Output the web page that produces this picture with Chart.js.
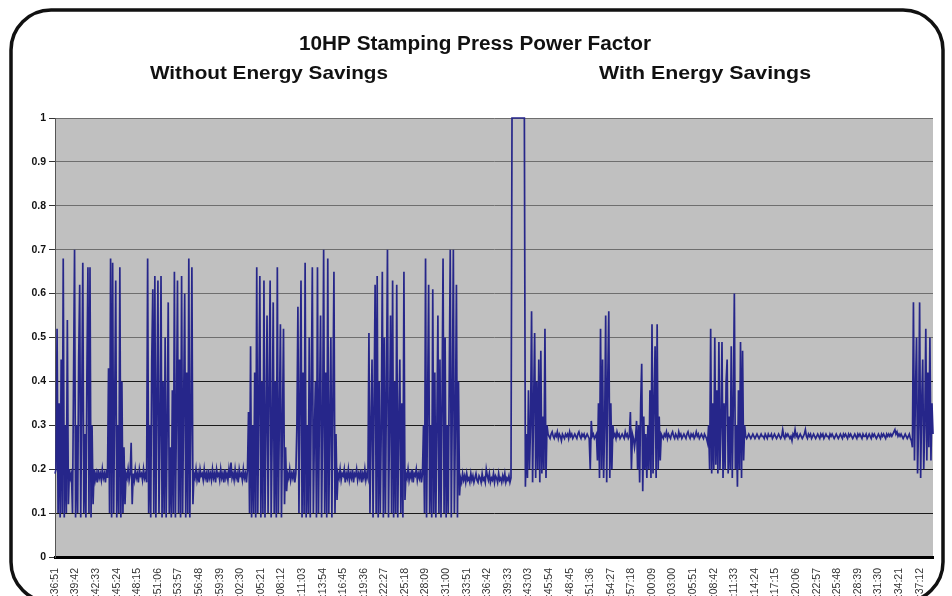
<!DOCTYPE html>
<html>
<head>
<meta charset="utf-8">
<script src="https://cdn.jsdelivr.net/npm/chart.js@4.4.1/dist/chart.umd.min.js"></script>
<style>
html,body{margin:0;padding:0;background:#fff;}
#wrap{width:952px;height:596px;}
</style>
</head>
<body>
<div id="wrap"><canvas id="c" width="952" height="596"></canvas></div>
<script>
// x tick labels (one every 20 samples)
const timeLabels = [
 "2:36:51","2:39:42","2:42:33","2:45:24","2:48:15","2:51:06","2:53:57","2:56:48","2:59:39",
 "3:02:30","3:05:21","3:08:12","3:11:03","3:13:54","3:16:45","3:19:36","3:22:27","3:25:18",
 "3:28:09","3:31:00","3:33:51","3:36:42","3:39:33","3:43:03","3:45:54","3:48:45","3:51:36",
 "3:54:27","3:57:18","4:00:09","4:03:00","4:05:51","4:08:42","4:11:33","4:14:24","4:17:15",
 "4:20:06","4:22:57","4:25:48","4:28:39","4:31:30","4:34:21","4:37:12"
];
const labelEvery = 20;

// power factor without energy savings
const pfWithout = [
 0.19,0.2,
 0.52,0.1,0.35,0.09,0.45,0.1,0.68,0.09,0.3,0.1,0.54,
 0.12,0.2,0.18,0.19,
 0.1,0.4,0.70,0.09,0.3,0.1,0.45,0.62,0.09,0.35,0.67,0.1,0.28,0.09,0.42,0.66,0.1,0.66,0.09,0.3,
 0.12,0.2,0.175,0.19,0.17,0.2,0.18,0.19,0.175,0.2,0.18,0.19,0.17,0.2,0.18,
 0.43,0.1,0.68,0.09,0.67,0.1,0.35,0.63,0.09,0.3,0.1,0.66,0.09,0.4,0.1,0.25,0.12,
 0.19,0.18,0.2,0.175,0.19,0.26,0.12,0.19,0.175,0.2,0.18,0.19,0.17,0.2,0.185,0.19,0.175,0.2,0.18,0.19,0.17,
 0.68,0.1,0.3,0.09,0.45,0.61,0.1,0.64,0.09,0.35,0.63,0.1,0.28,0.64,0.09,0.4,0.1,0.5,0.09,0.3,
 0.58,0.1,0.25,0.09,0.38,0.1,0.65,0.09,0.32,0.63,0.1,0.45,0.09,0.64,0.1,0.35,0.6,0.09,0.42,0.1,
 0.68,0.09,0.3,0.66,0.12,
 0.19,0.18,0.2,0.175,0.19,0.17,0.2,0.185,0.19,0.175,
 0.2,0.18,0.19,0.17,0.2,0.18,0.19,0.175,0.2,0.18,
 0.19,0.17,0.2,0.185,0.19,0.175,0.2,0.18,0.19,0.17,
 0.2,0.18,0.19,0.175,0.2,0.18,0.215,0.18,0.19,0.175,
 0.2,0.18,0.19,0.17,0.2,0.185,0.19,0.175,0.2,0.18,
 0.19,0.17,0.2,
 0.33,0.1,0.48,0.09,0.3,0.1,0.42,0.09,0.66,0.1,0.35,0.64,0.09,0.4,0.1,0.63,0.09,0.3,0.55,0.1,
 0.38,0.63,0.09,0.28,0.58,0.1,0.4,0.09,0.66,0.1,0.32,0.53,0.09,0.3,0.52,0.12,0.25,
 0.15,0.19,0.18,0.2,0.175,0.19,0.18,0.2,0.17,0.19,
 0.3,0.57,0.1,0.35,0.63,0.09,0.42,0.1,0.67,0.09,0.3,0.1,0.5,0.09,0.38,0.66,0.1,0.28,0.4,0.09,
 0.66,0.1,0.35,0.55,0.09,0.3,0.70,0.1,0.42,0.09,0.68,0.1,0.3,0.5,0.09,0.36,0.65,0.1,0.28,0.13,
 0.19,0.18,0.2,0.175,0.19,0.185,0.2,0.17,0.19,0.18,
 0.2,0.175,0.19,0.18,0.2,0.17,0.19,0.185,0.2,0.175,
 0.19,0.18,0.2,0.17,0.19,0.18,0.2,0.175,0.19,0.18,
 0.51,0.1,0.3,0.45,0.09,0.35,0.62,0.1,0.64,0.09,0.4,0.1,0.3,0.65,0.09,0.5,0.1,0.38,0.70,0.09,
 0.3,0.55,0.1,0.63,0.09,0.4,0.1,0.62,0.09,0.3,0.45,0.1,0.35,0.09,0.65,0.13,
 0.19,0.18,0.2,0.175,0.19,0.18,0.2,0.17,0.19,0.185,0.2,0.175,0.19,0.18,0.2,0.17,0.19,
 0.3,0.1,0.68,0.09,0.35,0.62,0.1,0.3,0.09,0.61,0.1,0.42,0.09,0.3,0.55,0.1,0.45,0.09,0.35,0.68,
 0.1,0.5,0.09,0.3,0.1,0.4,0.70,0.09,0.35,0.70,0.1,0.3,0.62,0.09,0.4,0.14,
 0.18,0.17,0.19,0.175,0.185,0.17,0.19,0.175,0.18,0.17,
 0.19,0.175,0.185,0.17,0.18,0.19,0.175,0.17,0.185,0.18,
 0.17,0.19,0.175,0.18,0.17,0.2,0.185,0.175,0.19,0.17,
 0.18,0.175,0.19,0.17,0.185,0.18,0.17,0.19,0.175,0.18,
 0.17,0.185,0.175,0.19,0.17,0.18,0.175,0.185,0.17,0.18
];

// switch-over spike
const pfSpike = [1,1,1,1,1,1,1,1,1,1,1,1,1];

// power factor with energy savings
const pfWith = [
 0.16,0.28,0.18,0.38,0.2,0.3,0.56,0.17,0.35,0.51,0.18,0.4,0.2,0.45,0.17,0.47,0.19,0.32,0.2,0.52,0.18,0.3,
 0.28,0.275,0.27,0.28,0.285,0.275,0.27,0.28,0.275,0.285,
 0.27,0.28,0.275,0.265,0.28,0.275,0.27,0.28,0.275,0.28,
 0.27,0.285,0.275,0.28,0.27,0.275,0.28,0.275,0.27,0.28,
 0.285,0.275,0.27,0.28,0.275,0.28,0.27,0.275,0.28,0.275,
 0.27,0.2,0.31,0.275,0.28,0.27,0.275,0.28,
 0.22,0.35,0.18,0.52,0.2,0.45,0.18,0.3,0.55,0.17,0.4,0.56,0.18,0.35,0.2,0.3,
 0.275,0.28,0.27,0.285,0.275,0.28,0.27,0.275,0.28,0.275,0.27,0.285,0.275,0.28,0.27,0.275,
 0.33,0.2,0.28,0.27,0.25,0.27,0.31,0.2,0.3,0.17,0.35,0.44,0.15,0.32,0.2,
 0.28,0.18,0.3,0.2,0.38,0.18,0.53,0.19,0.35,0.48,0.18,0.53,0.2,0.32,0.22,
 0.28,0.275,0.27,0.28,0.275,0.285,0.27,0.28,0.275,0.27,
 0.28,0.285,0.275,0.27,0.28,0.275,0.27,0.285,0.275,0.28,
 0.27,0.275,0.28,0.275,0.27,0.28,0.285,0.275,0.27,0.28,
 0.275,0.28,0.27,0.275,0.285,0.275,0.28,0.27,0.275,0.28,
 0.275,0.27,0.28,0.275,0.27,0.26,
 0.3,0.2,0.52,0.19,0.35,0.2,0.5,0.21,0.38,0.19,0.49,0.2,0.3,0.49,0.18,0.35,0.2,0.4,
 0.45,0.19,0.32,0.2,0.48,0.18,0.35,0.6,0.2,0.3,0.16,0.38,0.2,0.49,0.18,0.47,0.22,0.3,
 0.275,0.27,0.275,0.28,0.275,0.27,0.275,0.28,0.275,0.27,
 0.275,0.28,0.275,0.27,0.275,0.28,0.275,0.275,0.27,0.28,
 0.275,0.27,0.28,0.275,0.275,0.28,0.27,0.275,0.28,0.275,
 0.27,0.275,0.28,0.275,0.27,0.275,0.29,0.275,0.27,0.28,
 0.275,0.28,0.275,0.27,0.275,0.265,0.28,0.275,0.29,0.275,
 0.28,0.27,0.275,0.28,0.275,0.27,0.275,0.28,0.29,0.275,
 0.27,0.28,0.275,0.28,0.27,0.275,0.28,0.275,0.27,0.275,
 0.28,0.275,0.27,0.28,0.275,0.28,0.27,0.275,0.28,0.275,
 0.275,0.27,0.28,0.275,0.28,0.275,0.27,0.275,0.28,0.275,
 0.27,0.275,0.28,0.275,0.27,0.28,0.275,0.28,0.275,0.27,
 0.28,0.275,0.28,0.275,0.27,0.275,0.28,0.275,0.27,0.28,
 0.275,0.28,0.275,0.27,0.28,0.275,0.275,0.28,0.27,0.275,
 0.28,0.275,0.27,0.28,0.275,0.28,0.275,0.27,0.275,0.28,
 0.275,0.27,0.28,0.275,0.28,0.275,0.27,0.28,0.275,0.28,
 0.275,0.28,0.275,0.28,0.285,0.29,0.28,0.285,0.275,0.28,
 0.275,0.28,0.275,0.27,0.275,0.28,0.275,0.27,0.275,0.28,
 0.27,0.265,
 0.25,0.58,0.22,0.38,0.5,0.19,0.3,0.58,0.18,0.35,0.45,0.2,0.3,0.52,0.22,0.42,0.25,0.5,0.22,0.35,0.28
];

const titleText = "10HP Stamping Press Power Factor";
const subLeft = "Without Energy Savings";
const subRight = "With Energy Savings";

const pf = [...pfWithout, ...pfSpike, ...pfWith];
const points = pf.map((v, i) => ({x: i, y: v}));

function fitText(ctx, text, cx, baseline, width) {
  const w = ctx.measureText(text).width;
  ctx.save();
  ctx.translate(cx, baseline);
  ctx.scale(width / w, 1);
  ctx.textAlign = 'center';
  ctx.fillText(text, 0, 0);
  ctx.restore();
}

const framePlugin = {
  id: 'frame',
  beforeDraw(chart) {
    const {ctx, chartArea: a, width, height} = chart;
    ctx.save();
    ctx.fillStyle = '#fff';
    ctx.fillRect(0, 0, width, height);
    ctx.lineWidth = 3.5;
    ctx.strokeStyle = '#111';
    ctx.beginPath();
    ctx.roundRect(11, 10, 932, 592, 40);
    ctx.stroke();
    ctx.fillStyle = '#c0c0c0';
    ctx.fillRect(a.left, a.top, a.right - a.left, a.bottom - a.top);
    ctx.restore();
  },
  afterDraw(chart) {
    const ctx = chart.ctx;
    ctx.save();
    ctx.fillStyle = '#111';
    ctx.font = 'bold 20px "Liberation Sans", Arial, sans-serif';
    fitText(ctx, titleText, 475, 50, 352);
    ctx.font = 'bold 19px "Liberation Sans", Arial, sans-serif';
    fitText(ctx, subLeft, 269, 79, 238);
    fitText(ctx, subRight, 705, 79, 212);
    ctx.restore();
  }
};

new Chart(document.getElementById('c'), {
  type: 'line',
  data: {
    datasets: [{
      data: points,
      borderColor: '#26268a',
      borderWidth: 1.7,
      pointRadius: 0,
      tension: 0,
      fill: false,
      clip: 4
    }]
  },
  options: {
    responsive: false,
    animation: false,
    parsing: false,
    layout: {padding: {top: 118, right: 19, left: 0, bottom: 0}},
    plugins: {legend: {display: false}, tooltip: {enabled: false}, title: {display: false}},
    scales: {
      x: {
        type: 'linear',
        min: 0,
        max: pf.length - 1,
        afterBuildTicks: s => { s.ticks = timeLabels.map((_, k) => ({value: k * labelEvery})); },
        afterFit: s => { s.height = 39; },
        ticks: {
          autoSkip: false,
          maxRotation: 90,
          minRotation: 90,
          padding: 3,
          color: '#333',
          font: {size: 10.5, family: '"Liberation Sans", Arial, sans-serif'},
          callback: v => timeLabels[Math.round(v / labelEvery)]
        },
        grid: {display: false},
        border: {display: true, color: '#000', width: 3}
      },
      y: {
        min: 0,
        max: 1,
        afterFit: s => { s.width = 55; },
        ticks: {
          stepSize: 0.1,
          padding: 3,
          color: '#111',
          font: {size: 10.5, weight: 'bold', family: '"Liberation Sans", Arial, sans-serif'},
          callback: v => String(+v.toFixed(1))
        },
        grid: {
          color: c => (c.tick && c.tick.value > 0.45) ? '#6e6e6e' : '#1a1a1a',
          lineWidth: 1,
          tickLength: 6,
          tickColor: '#333'
        },
        border: {display: true, color: '#555', width: 1}
      }
    }
  },
  plugins: [framePlugin]
});
</script>
</body>
</html>
